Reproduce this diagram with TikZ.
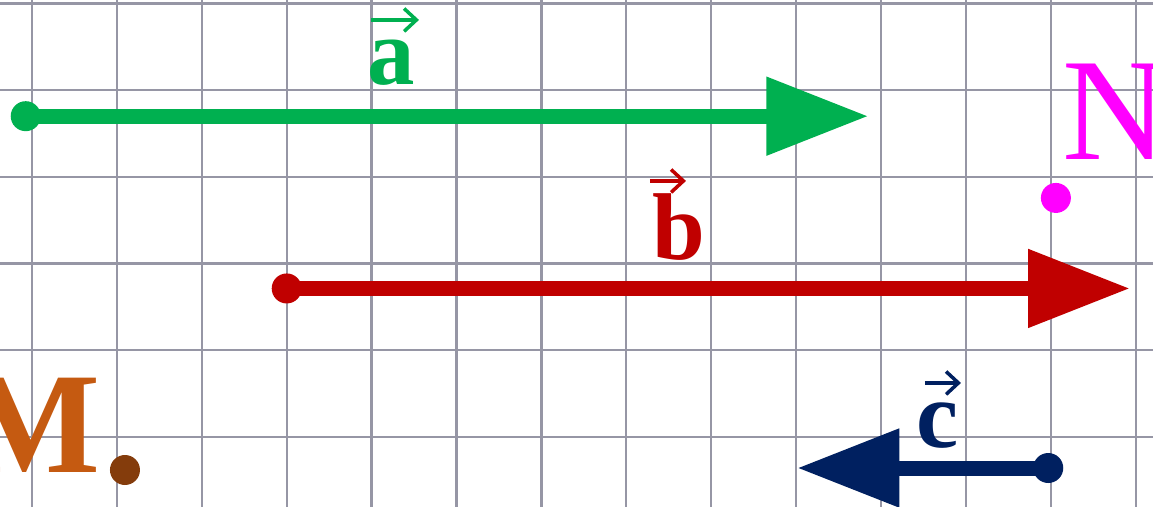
\documentclass[tikz,border=0pt]{standalone}
\usepackage{fontspec}
\setmainfont{Liberation Serif}
\usetikzlibrary{arrows.meta}
\definecolor{vgreen}{HTML}{00B050}
\definecolor{vred}{HTML}{C00000}
\definecolor{vblue}{HTML}{002060}
\definecolor{pmag}{HTML}{FF00FF}
\definecolor{porange}{HTML}{C55A11}
\definecolor{pbrown}{HTML}{843C0C}
\definecolor{gridgray}{RGB}{150,150,165}
\tikzset{
  vecline/.style={line width=0.3cm, -{Triangle[length=2.04cm,width=1.5cm]}},
  hat/.style={line width=2pt, -{Straight Barb[length=7pt,width=13pt]}},
  veclbl/.style={anchor=base, inner sep=0pt, font=\fontsize{54}{54}\selectfont\bfseries},
  ptlbl/.style={inner sep=0pt, font=\fontsize{83}{83}\selectfont}}

\begin{document}
\begin{tikzpicture}[x=1.698cm,y=1.734cm]
  \useasboundingbox[fill=white] (-0.377,-0.807) rectangle (13.204,5.04);
  % squared paper
  \foreach \i in {0,...,13} \draw[gridgray, line width=0.045cm] (\i,-0.807) -- (\i,5.04);
  \foreach \j in {0,...,5} \draw[gridgray, line width=0.045cm] (-0.377,\j) -- (13.204,\j);
    \coordinate (aS) at (-0.074,3.70);
    \coordinate (aE) at (9.851,3.70);
        \coordinate (bS) at (3.0,1.713);
        \coordinate (bE) at (12.933,1.713);
           \coordinate (cS) at (11.97,-0.358);
           \coordinate (cE) at (9.014,-0.358);
                \coordinate (N) at (12.06,2.757);
                \coordinate (M) at (1.095,-0.381);
         \draw [vecline, vgreen] (aS) -- (aE);
          \draw [vecline, vred] (bS) -- (bE);
         \draw [vecline, vblue] (cS) -- (cE);
               \fill [vgreen] (aS) circle (0.3cm); \fill [vred] (bS) circle (0.3cm);
               \fill [vblue] (cS) circle (0.3cm);
               \fill [pmag] (N) circle (0.3cm); \fill [pbrown] (M) circle (0.3cm);
    % labels of the vectors
    \node [veclbl, vgreen] (la) at (4.235,4.06) {a};
    \node [veclbl, vred] (lb) at (7.615,2.042) {b};
    \node [veclbl, vblue] (lc) at (10.671,-0.127) {c};
    \coordinate (ha1) at (3.993,4.81); \coordinate (ha2) at (4.558,4.81);
    \coordinate (hb1) at (7.279,2.953); \coordinate (hb2) at (7.703,2.953);
    \coordinate (hc1) at (10.518,0.623); \coordinate (hc2) at (10.942,0.623);
          \draw [hat, vgreen] (ha1) -- (ha2);
          \draw [hat, vred] (hb1) -- (hb2);
          \draw [hat, vblue] (hc1) -- (hc2);
    % points
    \node [ptlbl, pmag, anchor=base west] (lN) at (12.132,3.195) {N};
    \node [ptlbl, porange, anchor=base east, font=\fontsize{82}{82}\selectfont\bfseries] (lM) at (0.813,-0.415) {M};
\end{tikzpicture}
\end{document}
